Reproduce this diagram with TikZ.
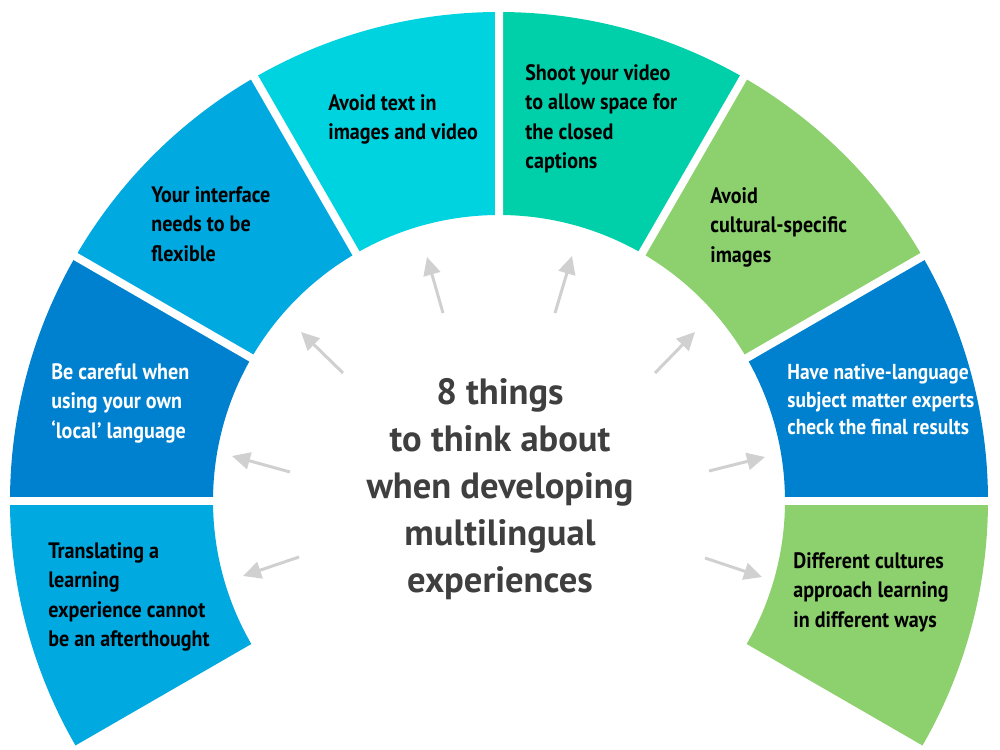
\documentclass[tikz,border=0pt]{standalone}
\usepackage{fontspec}
\setmainfont{PT Sans}[FakeStretch=0.9]
\newfontfamily\titlefont{PT Sans}
\usetikzlibrary{arrows.meta}
\definecolor{lightblue}{HTML}{00A9E0}
\definecolor{deepblue}{HTML}{0081D0}
\definecolor{cyanseg}{HTML}{00D3E0}
\definecolor{tealseg}{HTML}{00D0AA}
\definecolor{greenseg}{HTML}{8DD16F}
\definecolor{pointergray}{HTML}{D0D0D0}
\definecolor{titlegray}{HTML}{3F3F3F}
\tikzset{
  tiptext/.style={anchor=north west, align=left, inner sep=0pt, font=\fontsize{12.7}{16.8}\selectfont\bfseries},
  darktip/.style={tiptext, text=black},
  lighttip/.style={tiptext, text=white},
  titletext/.style={anchor=north, align=center, inner sep=0pt, text=titlegray, font=\titlefont\fontsize{20.8}{26.7}\selectfont\bfseries},
  gap/.style={draw=white, line width=0.16cm},
  pointer/.style={-{Triangle[length=0.36cm,width=0.34cm]}, draw=pointergray, line width=0.06cm}
}

\begin{document}
\begin{tikzpicture}[x=0.02cm, y=0.02cm]
  \fill[white] (-499,-249) rectangle (501,501);
  \useasboundingbox (-499,-249) rectangle (501,501);

  % ring segments, 30 degrees each
  \fill[lightblue] (210:286) arc[start angle=210, end angle=180, radius=5.72cm] -- (180:489) arc[start angle=180, end angle=210, radius=9.78cm] -- cycle;
  \fill[deepblue] (180:286) arc[start angle=180, end angle=150, radius=5.72cm] -- (150:489) arc[start angle=150, end angle=180, radius=9.78cm] -- cycle;
  \fill[lightblue] (150:286) arc[start angle=150, end angle=120, radius=5.72cm] -- (120:489) arc[start angle=120, end angle=150, radius=9.78cm] -- cycle;
  \fill[cyanseg] (120:286) arc[start angle=120, end angle=90, radius=5.72cm] -- (90:489) arc[start angle=90, end angle=120, radius=9.78cm] -- cycle;
  \fill[tealseg] (90:286) arc[start angle=90, end angle=60, radius=5.72cm] -- (60:489) arc[start angle=60, end angle=90, radius=9.78cm] -- cycle;
  \fill[greenseg] (60:286) arc[start angle=60, end angle=30, radius=5.72cm] -- (30:489) arc[start angle=30, end angle=60, radius=9.78cm] -- cycle;
  \fill[deepblue] (30:286) arc[start angle=30, end angle=0, radius=5.72cm] -- (0:489) arc[start angle=0, end angle=30, radius=9.78cm] -- cycle;
  \fill[greenseg] (0:286) arc[start angle=0, end angle=-30, radius=5.72cm] -- (-30:489) arc[start angle=-30, end angle=0, radius=9.78cm] -- cycle;

  % white gaps between segments
  \draw[gap] (0:280) -- (0:495) (30:280) -- (30:495) (60:280) -- (60:495) (90:280) -- (90:495)
    (120:280) -- (120:495) (150:280) -- (150:495) (180:280) -- (180:495);

  % texts
  \node[darktip] (translate) at (-451,-41) {Translating a\\learning\\experience cannot\\be an afterthought};
  \node[lighttip] (careful) at (-448,138) {Be careful when\\using your own\\`local' language};
  \node[darktip] (flexible) at (-348,315) {Your interface\\needs to be\\flexible};
  \node[darktip] (notext) at (-171,407) {Avoid text in\\images and video};
  \node[darktip] (captions) at (26,437) {Shoot your video\\to allow space for\\the closed\\captions};
  \node[darktip] (cultural) at (211,314) {Avoid\\cultural-specific\\images};
  \node[lighttip, font=\fontsize{12.3}{15.7}\selectfont\bfseries] (experts) at (288,137) {Have native-language\\subject matter experts\\check the final results};
  \node[darktip] (cultures) at (294,-51) {Different cultures\\approach learning\\in different ways};

  \node[titletext] (title) at (1,123) {8 things\\to think about\\when developing\\multilingual\\experiences};

  % pointers from the centre to each segment
  \coordinate (p1s) at (-200,-56); \coordinate (p1e) at (-256,-75);
  \coordinate (p2s) at (-209,29);  \coordinate (p2e) at (-267,45);
  \coordinate (p3s) at (-156,128); \coordinate (p3e) at (-198,169);
  \coordinate (p4s) at (-56,188);  \coordinate (p4e) at (-72,244);
  \coordinate (p5s) at (56,188);   \coordinate (p5e) at (73,245);
  \coordinate (p6s) at (156,128);  \coordinate (p6e) at (196,169);
  \coordinate (p7s) at (210,30);   \coordinate (p7e) at (266,44);
  \coordinate (p8s) at (206,-57);  \coordinate (p8e) at (263,-76);
  \draw[pointer] (p1s) -- (p1e);
  \draw[pointer] (p2s) -- (p2e);
  \draw[pointer] (p3s) -- (p3e);
  \draw[pointer] (p4s) -- (p4e);
  \draw[pointer] (p5s) -- (p5e);
  \draw[pointer] (p6s) -- (p6e);
  \draw[pointer] (p7s) -- (p7e);
  \draw[pointer] (p8s) -- (p8e);
\end{tikzpicture}
\end{document}
